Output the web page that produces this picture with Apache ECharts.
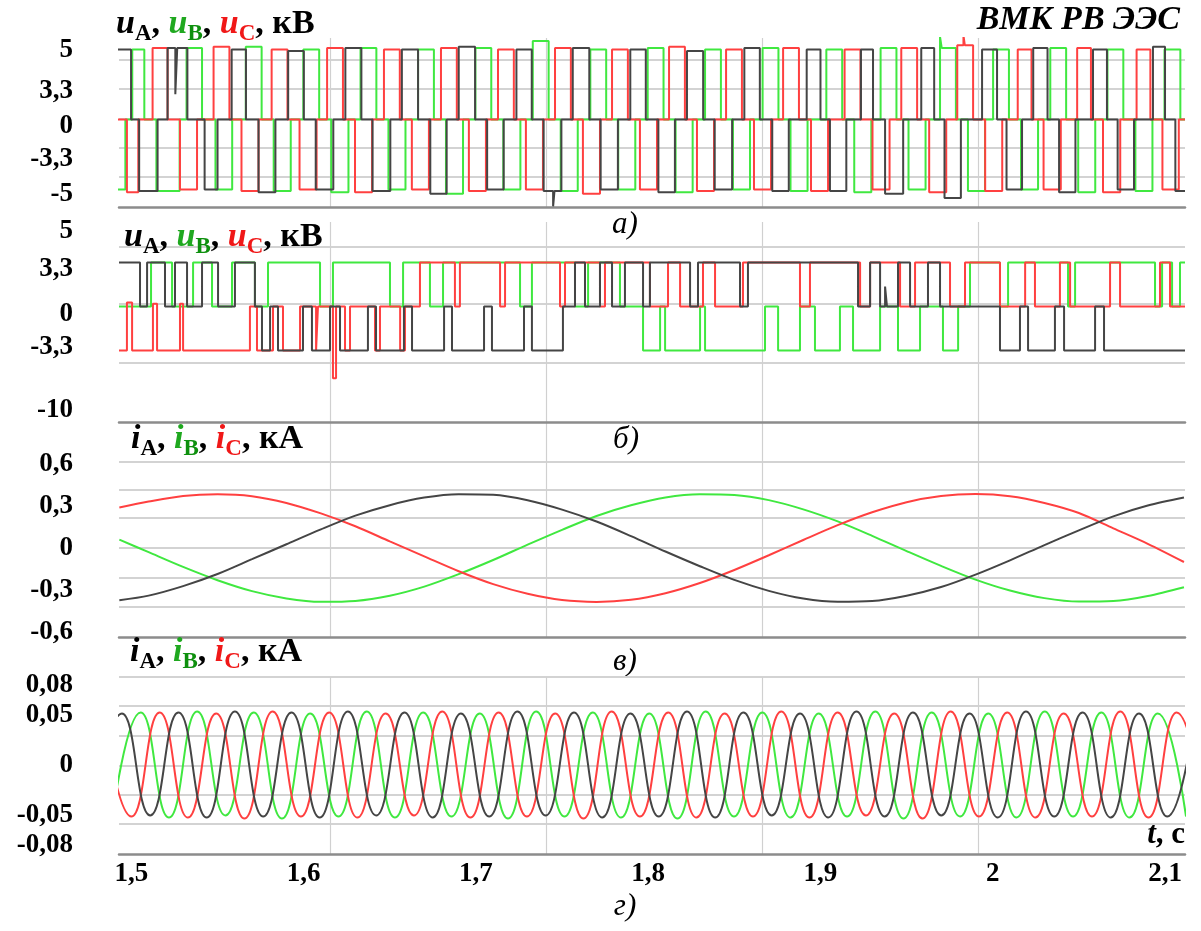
<!DOCTYPE html>
<html><head><meta charset="utf-8">
<script src="https://cdn.jsdelivr.net/npm/echarts@6/dist/echarts.min.js"></script>
<style>html,body{margin:0;padding:0;background:#fff}#c{width:1201px;height:931px}</style>
</head><body><div id="c"></div>
<script>
// ---- time axis (ms) ----
const xTickVals = [1500,1600,1700,1800,1900,2000,2100];
const xTickText = ['1,5','1,6','1,7','1,8','1,9','2','2,1'];
const xGridVals = [1615.3,1740.7,1866.1,1991.5];

// ---- y tick labels ----
const yA_text = ['5','3,3','0','-3,3','-5'];
const yA_at   = [4.96,2.04,-0.46,-2.82,-5.32];
const yA_grid = [4.25,2.18,0.04,-2.04,-4.11];
const yB_text = ['5','3,3','0','-3,3','-10'];
const yB_at   = [5.68,2.82,-0.56,-3.05,-7.78];
const yB_grid = [4.47,0.19,-4.25];
const yC_text = ['0,6','0,3','0','-0,3','-0,6'];
const yC_at   = [0.6,0.3,0,-0.3,-0.6];
const yC_grid = [0.615,0.415,0.215,0,-0.215,-0.42];
const yD_text = ['0,08','0,05','0','-0,05','-0,08'];
const yD_at   = [0.08,0.05,0,-0.05,-0.08];
const yD_grid = [0.0885,0.0595,0.0295,0,-0.029,-0.058];

// ---- panel а: phase voltages, kV (level changes: [ms, level]) ----
const uA_a = [[1485.0,0],[1491.5,5.0],[1499.8,0],[1504.5,-5.1],[1515.2,0],[1521.0,5.1],[1525.5,1.8],[1526.6,5.1],[1532.5,0],[1542.5,-5.0],[1550.0,0],[1558.2,5.0],[1566.5,0],[1573.8,-5.2],[1583.6,0],[1591.0,4.9],[1600.1,0],[1607.0,-5.0],[1617.2,0],[1624.2,5.1],[1633.5,0],[1640.0,-5.1],[1650.3,0],[1657.0,5.0],[1666.4,0],[1673.5,-5.3],[1683.0,0],[1690.0,5.2],[1699.5,0],[1706.5,-5.0],[1716.1,0],[1723.5,5.0],[1732.4,0],[1739.3,-5.1],[1744.8,-6.2],[1745.6,-5.1],[1749.6,0],[1756.2,5.1],[1765.8,0],[1772.4,-5.0],[1782.4,0],[1789.6,5.0],[1798.6,0],[1805.9,-5.2],[1815.5,0],[1822.5,4.9],[1831.9,0],[1838.6,-5.0],[1848.7,0],[1855.8,5.1],[1864.8,0],[1872.0,-5.1],[1881.6,0],[1892.0,5.0],[1900.0,0],[1905.5,-5.1],[1915.0,0],[1923.5,5.0],[1930.5,0],[1937.5,-5.3],[1948.0,0],[1958.5,5.1],[1966.0,0],[1972.0,-5.6],[1981.5,0],[1993.8,5.0],[2002.5,0],[2008.0,-5.0],[2017.0,0],[2023.5,5.1],[2031.8,0],[2038.5,-5.2],[2048.0,0],[2058.2,5.0],[2066.3,0],[2072.5,-5.0],[2082.0,0],[2093.0,5.2],[2100.0,0],[2106.0,-5.1],[2111.6,-5.1]];
const uB_a = [[1490.0,-5.0],[1496.5,0],[1500.5,5.0],[1507.5,0],[1514.5,-5.1],[1528.0,0],[1532.0,5.1],[1541.0,0],[1548.8,-5.0],[1558.5,0],[1566.4,5.2],[1575.6,0],[1582.6,-5.1],[1592.5,0],[1599.8,5.0],[1609.0,0],[1616.0,-5.2],[1626.0,0],[1633.0,5.1],[1642.2,0],[1649.2,-5.0],[1659.1,0],[1666.4,5.0],[1675.6,0],[1682.6,-5.3],[1692.5,0],[1699.7,5.1],[1708.9,0],[1715.9,-5.0],[1725.8,0],[1733.0,5.6],[1742.2,0],[1749.2,-5.1],[1759.1,0],[1766.4,5.0],[1775.6,0],[1782.6,-5.0],[1792.5,0],[1799.7,5.1],[1808.9,0],[1815.9,-5.2],[1825.8,0],[1833.0,5.0],[1842.2,0],[1849.2,-5.0],[1859.1,0],[1866.4,5.1],[1875.6,0],[1882.6,-5.1],[1892.5,0],[1903.4,5.0],[1912.6,0],[1919.6,-5.2],[1929.5,0],[1934.9,5.1],[1944.1,0],[1951.1,-5.0],[1961.0,0],[1969.4,5.9],[1970.4,5.1],[1978.6,0],[1985.6,-5.1],[1995.5,0],[2000.2,5.0],[2009.4,0],[2016.4,-5.0],[2026.3,0],[2033.4,5.1],[2042.6,0],[2049.6,-5.2],[2059.5,0],[2066.6,5.0],[2075.8,0],[2082.8,-5.1],[2092.7,0],[2099.7,5.0],[2108.9,0],[2111.6,0]];
const uC_a = [[1490.0,0],[1497.4,-5.2],[1504.0,0],[1512.3,5.1],[1521.0,0],[1528.2,-5.0],[1538.1,0],[1547.7,5.2],[1556.9,0],[1563.9,-5.1],[1573.8,0],[1581.4,5.0],[1590.6,0],[1597.6,-5.0],[1607.5,0],[1613.6,5.1],[1622.8,0],[1629.8,-5.2],[1639.7,0],[1646.6,5.0],[1655.8,0],[1662.8,-5.0],[1672.7,0],[1679.7,5.1],[1688.9,0],[1695.9,-5.1],[1705.8,0],[1712.8,5.0],[1722.0,0],[1729.0,-5.0],[1738.9,0],[1745.9,5.1],[1755.1,0],[1762.1,-5.3],[1772.0,0],[1779.0,5.0],[1788.2,0],[1795.2,-5.0],[1805.1,0],[1812.1,5.2],[1821.3,0],[1828.3,-5.1],[1838.2,0],[1845.2,5.0],[1854.4,0],[1861.4,-5.0],[1871.3,0],[1878.3,5.1],[1887.5,0],[1894.5,-5.1],[1904.4,0],[1914.0,5.0],[1923.2,0],[1930.2,-5.0],[1940.1,0],[1946.9,5.1],[1956.1,0],[1963.1,-5.2],[1973.0,0],[1979.4,5.3],[1983.0,6.0],[1983.8,5.3],[1988.6,0],[1995.6,-5.1],[2005.5,0],[2014.5,5.0],[2022.5,0],[2029.5,-5.0],[2039.5,0],[2049.0,5.1],[2057.0,0],[2064.0,-5.2],[2074.0,0],[2083.5,5.0],[2091.5,0],[2098.5,-5.0],[2108.0,0],[2111.6,0]];

// ---- panel б: phase voltages, kV (level changes: [ms, level]) ----
const uA_b = [[1492.8,3.3],[1505.0,0],[1509.1,3.3],[1519.5,0],[1525.3,3.3],[1532.3,0],[1541.0,3.3],[1550.3,0],[1560.1,3.3],[1571.7,0],[1575.8,-3.3],[1580.5,0],[1585.1,-3.3],[1599.6,0],[1604.8,-3.3],[1615.3,0],[1621.1,-3.3],[1637.3,0],[1642.0,-3.3],[1658.2,0],[1662.9,-3.3],[1681.5,0],[1686.1,-3.3],[1704.7,0],[1709.3,-3.3],[1727.9,0],[1732.5,-3.3],[1750.5,0],[1757.5,3.3],[1763.3,0],[1772.0,3.3],[1779.0,0],[1786.5,3.3],[1797.0,0],[1801.0,3.3],[1824.3,0],[1828.9,3.3],[1853.3,0],[1857.9,3.3],[1921.8,0],[1928.8,3.3],[1934.6,0],[1937.5,1.5],[1938.6,0],[1945.0,3.3],[1952.0,0],[1962.4,3.3],[1969.4,0],[2004.2,-3.3],[2015.8,0],[2020.5,-3.3],[2036.1,0],[2041.4,-3.3],[2059.4,0],[2064.6,-3.3],[2111.6,-3.3]];
const uB_b = [[1492.8,0],[1511.4,3.3],[1523.6,0],[1535.8,3.3],[1546.8,0],[1558.4,3.3],[1571.7,0],[1579.3,3.3],[1609.5,0],[1617.0,3.3],[1650.1,0],[1657.7,3.3],[1673.3,0],[1680.9,3.3],[1725.6,0],[1732.5,3.3],[1757.5,0],[1765.1,3.3],[1783.6,0],[1797.0,-3.3],[1806.9,0],[1809.8,-3.3],[1830.1,0],[1833.0,-3.3],[1867.8,0],[1875.4,-3.3],[1888.1,0],[1896.8,-3.3],[1911.3,0],[1918.9,-3.3],[1934.6,0],[1945.0,-3.3],[1957.8,0],[1971.1,-3.3],[1979.9,0],[1986.8,3.3],[2004.2,0],[2008.9,3.3],[2043.7,0],[2047.8,3.3],[2094.2,0],[2098.3,3.3],[2104.1,0],[2108.7,3.3],[2111.6,3.3]];
const uC_b = [[1492.8,-3.3],[1497.4,0.3],[1500.4,-3.3],[1512.5,0.2],[1514.9,-3.3],[1528.2,0.2],[1530.0,-3.3],[1568.8,0],[1572.9,-3.3],[1582.2,0],[1588.0,-3.3],[1597.9,0],[1607.2,-3.3],[1608.3,0],[1617.0,-5.4],[1618.8,0],[1624.0,-3.3],[1626.9,0],[1641.4,-3.3],[1644.3,0],[1656.0,-3.3],[1658.8,0],[1667.5,3.3],[1687.8,0],[1690.7,3.3],[1714.0,0],[1716.9,3.3],[1748.8,0],[1751.7,3.3],[1772.0,0],[1774.9,3.3],[1801.0,0],[1811.5,3.3],[1818.5,0],[1831.8,3.3],[1838.8,0],[1855.0,3.3],[1888.1,0],[1893.9,3.3],[1923.0,0],[1928.8,3.3],[1946.2,0],[1954.9,3.3],[1975.2,0],[1983.9,3.3],[2004.2,0],[2018.8,3.3],[2024.5,0],[2039.0,3.3],[2044.9,0],[2068.1,3.3],[2073.9,0],[2097.1,3.3],[2102.9,0],[2111.6,0]];

// ---- panel в: currents, kA ----
const tI = [1493,1510,1530,1550,1570,1590,1610,1630,1650,1670,1690,1710,1730,1750,1770,1790,1810,1830,1850,1870,1890,1910,1930,1950,1970,1990,2010,2030,2050,2070,2090,2111];
const iA_v = [-0.373,-0.340,-0.272,-0.186,-0.080,0.027,0.133,0.231,0.306,0.360,0.384,0.380,0.341,0.274,0.189,0.085,-0.025,-0.130,-0.228,-0.306,-0.361,-0.384,-0.379,-0.341,-0.279,-0.190,-0.088,0.021,0.126,0.226,0.303,0.360];
const iB_v = [0.060,-0.030,-0.135,-0.230,-0.308,-0.360,-0.384,-0.378,-0.341,-0.276,-0.187,-0.086,0.024,0.130,0.229,0.305,0.361,0.384,0.379,0.342,0.276,0.190,0.087,-0.022,-0.128,-0.226,-0.304,-0.358,-0.383,-0.379,-0.343,-0.280];
const iC_v = [0.290,0.332,0.372,0.384,0.370,0.322,0.247,0.155,0.047,-0.060,-0.166,-0.258,-0.327,-0.372,-0.385,-0.370,-0.323,-0.250,-0.157,-0.052,0.057,0.163,0.255,0.327,0.371,0.385,0.370,0.322,0.250,0.140,0.030,-0.100];

// ---- panel г: currents, kA (extrema) ----
const iA_g = [[1478.1,-0.050],[1494.5,0.052],[1510.9,-0.050],[1527.3,0.053],[1543.7,-0.052],[1560.1,0.054],[1576.5,-0.051],[1592.9,0.053],[1609.3,-0.052],[1625.7,0.054],[1642.1,-0.050],[1658.5,0.053],[1674.9,-0.052],[1691.3,0.052],[1707.7,-0.051],[1724.1,0.054],[1740.5,-0.050],[1756.9,0.053],[1773.3,-0.052],[1789.7,0.052],[1806.1,-0.051],[1822.5,0.054],[1838.9,-0.052],[1855.3,0.053],[1871.7,-0.050],[1888.1,0.052],[1904.5,-0.052],[1920.9,0.054],[1937.3,-0.051],[1953.7,0.053],[1970.1,-0.050],[1986.5,0.052],[2002.9,-0.052],[2019.3,0.054],[2035.7,-0.051],[2052.1,0.053],[2068.5,-0.052],[2084.9,0.052],[2101.3,-0.051],[2117.7,0.053]];
const iB_g = [[1489.0,-0.051],[1505.4,0.053],[1521.8,-0.052],[1538.2,0.054],[1554.6,-0.050],[1571.0,0.053],[1587.4,-0.053],[1603.8,0.052],[1620.2,-0.051],[1636.6,0.054],[1653.0,-0.052],[1669.4,0.053],[1685.8,-0.051],[1702.2,0.052],[1718.6,-0.053],[1735.0,0.054],[1751.4,-0.051],[1767.8,0.053],[1784.2,-0.052],[1800.6,0.052],[1817.0,-0.053],[1833.4,0.054],[1849.8,-0.051],[1866.2,0.053],[1882.6,-0.052],[1899.0,0.052],[1915.4,-0.051],[1931.8,0.054],[1948.2,-0.053],[1964.6,0.053],[1981.0,-0.051],[1997.4,0.052],[2013.8,-0.052],[2030.2,0.054],[2046.6,-0.051],[2063.0,0.053],[2079.4,-0.052],[2095.8,0.052],[2112.2,-0.051]];
const iC_g = [[1483.6,0.052],[1500.0,-0.051],[1516.4,0.053],[1532.8,-0.052],[1549.2,0.052],[1565.6,-0.053],[1582.0,0.054],[1598.4,-0.051],[1614.8,0.053],[1631.2,-0.052],[1647.6,0.052],[1664.0,-0.050],[1680.4,0.054],[1696.8,-0.052],[1713.2,0.053],[1729.6,-0.051],[1746.0,0.052],[1762.4,-0.053],[1778.8,0.054],[1795.2,-0.051],[1811.6,0.053],[1828.0,-0.052],[1844.4,0.052],[1860.8,-0.051],[1877.2,0.054],[1893.6,-0.052],[1910.0,0.053],[1926.4,-0.050],[1942.8,0.052],[1959.2,-0.053],[1975.6,0.054],[1992.0,-0.051],[2008.4,0.053],[2024.8,-0.052],[2041.2,0.052],[2057.6,-0.051],[2074.0,0.054],[2090.4,-0.052],[2106.8,0.053],[2123.2,-0.051]];

const C_BLACK = '#454545', C_GREEN = '#40e840', C_RED = '#ff4040';
const SERIF = '"Liberation Serif","Times New Roman",serif';

const chart = echarts.init(document.getElementById('c'), null, {renderer: 'canvas'});

function pick(texts, at) {
  return v => { const i = at.findIndex(p => Math.abs(p - v) < 1e-6); return i >= 0 ? texts[i] : ''; };
}
const grids = [
  {left: 119, right: 16, top: 38, height: 169},
  {left: 119, right: 16, top: 222, height: 200},
  {left: 119, right: 16, top: 422, height: 215},
  {left: 119, right: 16, top: 677, height: 177}
];
const yDefs = [
  {min: -6.25, max: 5.821, grid: yA_grid, text: yA_text, at: yA_at},
  {min: -8.684, max: 6.353, grid: yB_grid, text: yB_text, at: yB_at},
  {min: -0.6357, max: 0.9, grid: yC_grid, text: yC_text, at: yC_at},
  {min: -0.0885, max: 0.0885, grid: yD_grid, text: yD_text, at: yD_at}
];
const xAxis = grids.map((g, i) => ({
  type: 'value', gridIndex: i, min: 1492.8, max: 2111.6,
  axisLine: {show: true, onZero: false, lineStyle: {color: '#8c8c8c', width: 2.5}},
  axisTick: {show: false, customValues: xGridVals},
  splitLine: {show: true, lineStyle: {color: '#d0d0d0', width: 1.2}},
  axisLabel: {show: i === 3, customValues: xTickVals, formatter: pick(xTickText, xTickVals),
    fontFamily: SERIF, fontWeight: 'bold', fontSize: 27, color: '#000', margin: 7}
}));
const yAxis = yDefs.map((d, i) => ({
  type: 'value', gridIndex: i, min: d.min, max: d.max,
  axisLine: {show: false},
  axisTick: {show: false, customValues: d.grid},
  splitLine: {show: true, lineStyle: {color: '#d3d3d3', width: 2}},
  axisLabel: {show: true, customValues: d.at, formatter: pick(d.text, d.at),
    fontFamily: SERIF, fontWeight: 'bold', fontSize: 27, color: '#000', margin: 46}
}));

function line(name, data, color, gi, opts) {
  return Object.assign({type: 'line', name, data, xAxisIndex: gi, yAxisIndex: gi, showSymbol: false,
    lineStyle: {color, width: 2}, itemStyle: {color}, silent: true, clip: true}, opts);
}
const zip = (t, v) => t.map((x, k) => [x, v[k]]);

const series = [
  line('uB', uB_a, C_GREEN, 0, {step: 'end'}),
  line('uC', uC_a, C_RED, 0, {step: 'end'}),
  line('uA', uA_a, C_BLACK, 0, {step: 'end'}),
  line('uB', uB_b, C_GREEN, 1, {step: 'end'}),
  line('uC', uC_b, C_RED, 1, {step: 'end'}),
  line('uA', uA_b, C_BLACK, 1, {step: 'end'}),
  line('iB', zip(tI, iB_v), C_GREEN, 2, {smooth: 0.3}),
  line('iC', zip(tI, iC_v), C_RED, 2, {smooth: 0.3}),
  line('iA', zip(tI, iA_v), C_BLACK, 2, {smooth: 0.3}),
  line('iB', iB_g, C_GREEN, 3, {smooth: 0.5}),
  line('iC', iC_g, C_RED, 3, {smooth: 0.5}),
  line('iA', iA_g, C_BLACK, 3, {smooth: 0.5})
];

function richLabel(sym, unit) {
  return `{m|${sym}}{s|A}{c|, }{mg|${sym}}{sg|B}{c|, }{mr|${sym}}{sr|C}{c|, ${unit}}`;
}
const rich = {
  m:  {fontFamily: SERIF, fontStyle: 'italic', fontWeight: 'bold', fontSize: 34, color: '#000'},
  mg: {fontFamily: SERIF, fontStyle: 'italic', fontWeight: 'bold', fontSize: 34, color: '#1fa81f'},
  mr: {fontFamily: SERIF, fontStyle: 'italic', fontWeight: 'bold', fontSize: 34, color: '#f01818'},
  s:  {fontFamily: SERIF, fontWeight: 'bold', fontSize: 23, color: '#000', padding: [20,0,0,0]},
  sg: {fontFamily: SERIF, fontWeight: 'bold', fontSize: 23, color: '#0e900e', padding: [20,0,0,0]},
  sr: {fontFamily: SERIF, fontWeight: 'bold', fontSize: 23, color: '#f01818', padding: [20,0,0,0]},
  c:  {fontFamily: SERIF, fontWeight: 'bold', fontSize: 34, color: '#000'}
};
const titles = [
  {left: 116, top: 3, text: richLabel('u', 'кВ'), textStyle: {rich}, padding: 0},
  {left: 124, top: 216, text: richLabel('u', 'кВ'), textStyle: {rich}, padding: 0},
  {left: 131, top: 418, text: richLabel('i', 'кА'), textStyle: {rich}, padding: 0},
  {left: 130, top: 631, text: richLabel('i', 'кА'), textStyle: {rich}, padding: 0},
  {right: 21, top: 3, text: 'ВМК РВ ЭЭС', padding: 0,
   textStyle: {fontFamily: SERIF, fontStyle: 'italic', fontWeight: 'bold', fontSize: 34, color: '#000'}},
  {right: 16, top: 819, text: '{t|t}{c|, с}', padding: 0,
   textStyle: {rich: {
     t: {fontFamily: SERIF, fontStyle: 'italic', fontWeight: 'bold', fontSize: 31, color: '#000'},
     c: {fontFamily: SERIF, fontWeight: 'bold', fontSize: 31, color: '#000'}}}}
];
const captions = [['а)', 625, 225], ['б)', 626, 440], ['в)', 625, 662], ['г)', 625, 907]];
const graphic = captions.map(([txt, x, y]) => ({
  type: 'text', x, y, silent: true,
  style: {text: txt, font: 'italic 31px ' + SERIF, fill: '#000',
    align: 'center', verticalAlign: 'middle', textAlign: 'center', textVerticalAlign: 'middle'}
}));

chart.setOption({
  animation: false,
  backgroundColor: '#fff',
  grid: grids, xAxis, yAxis, series, title: titles, graphic
});
</script></body></html>
